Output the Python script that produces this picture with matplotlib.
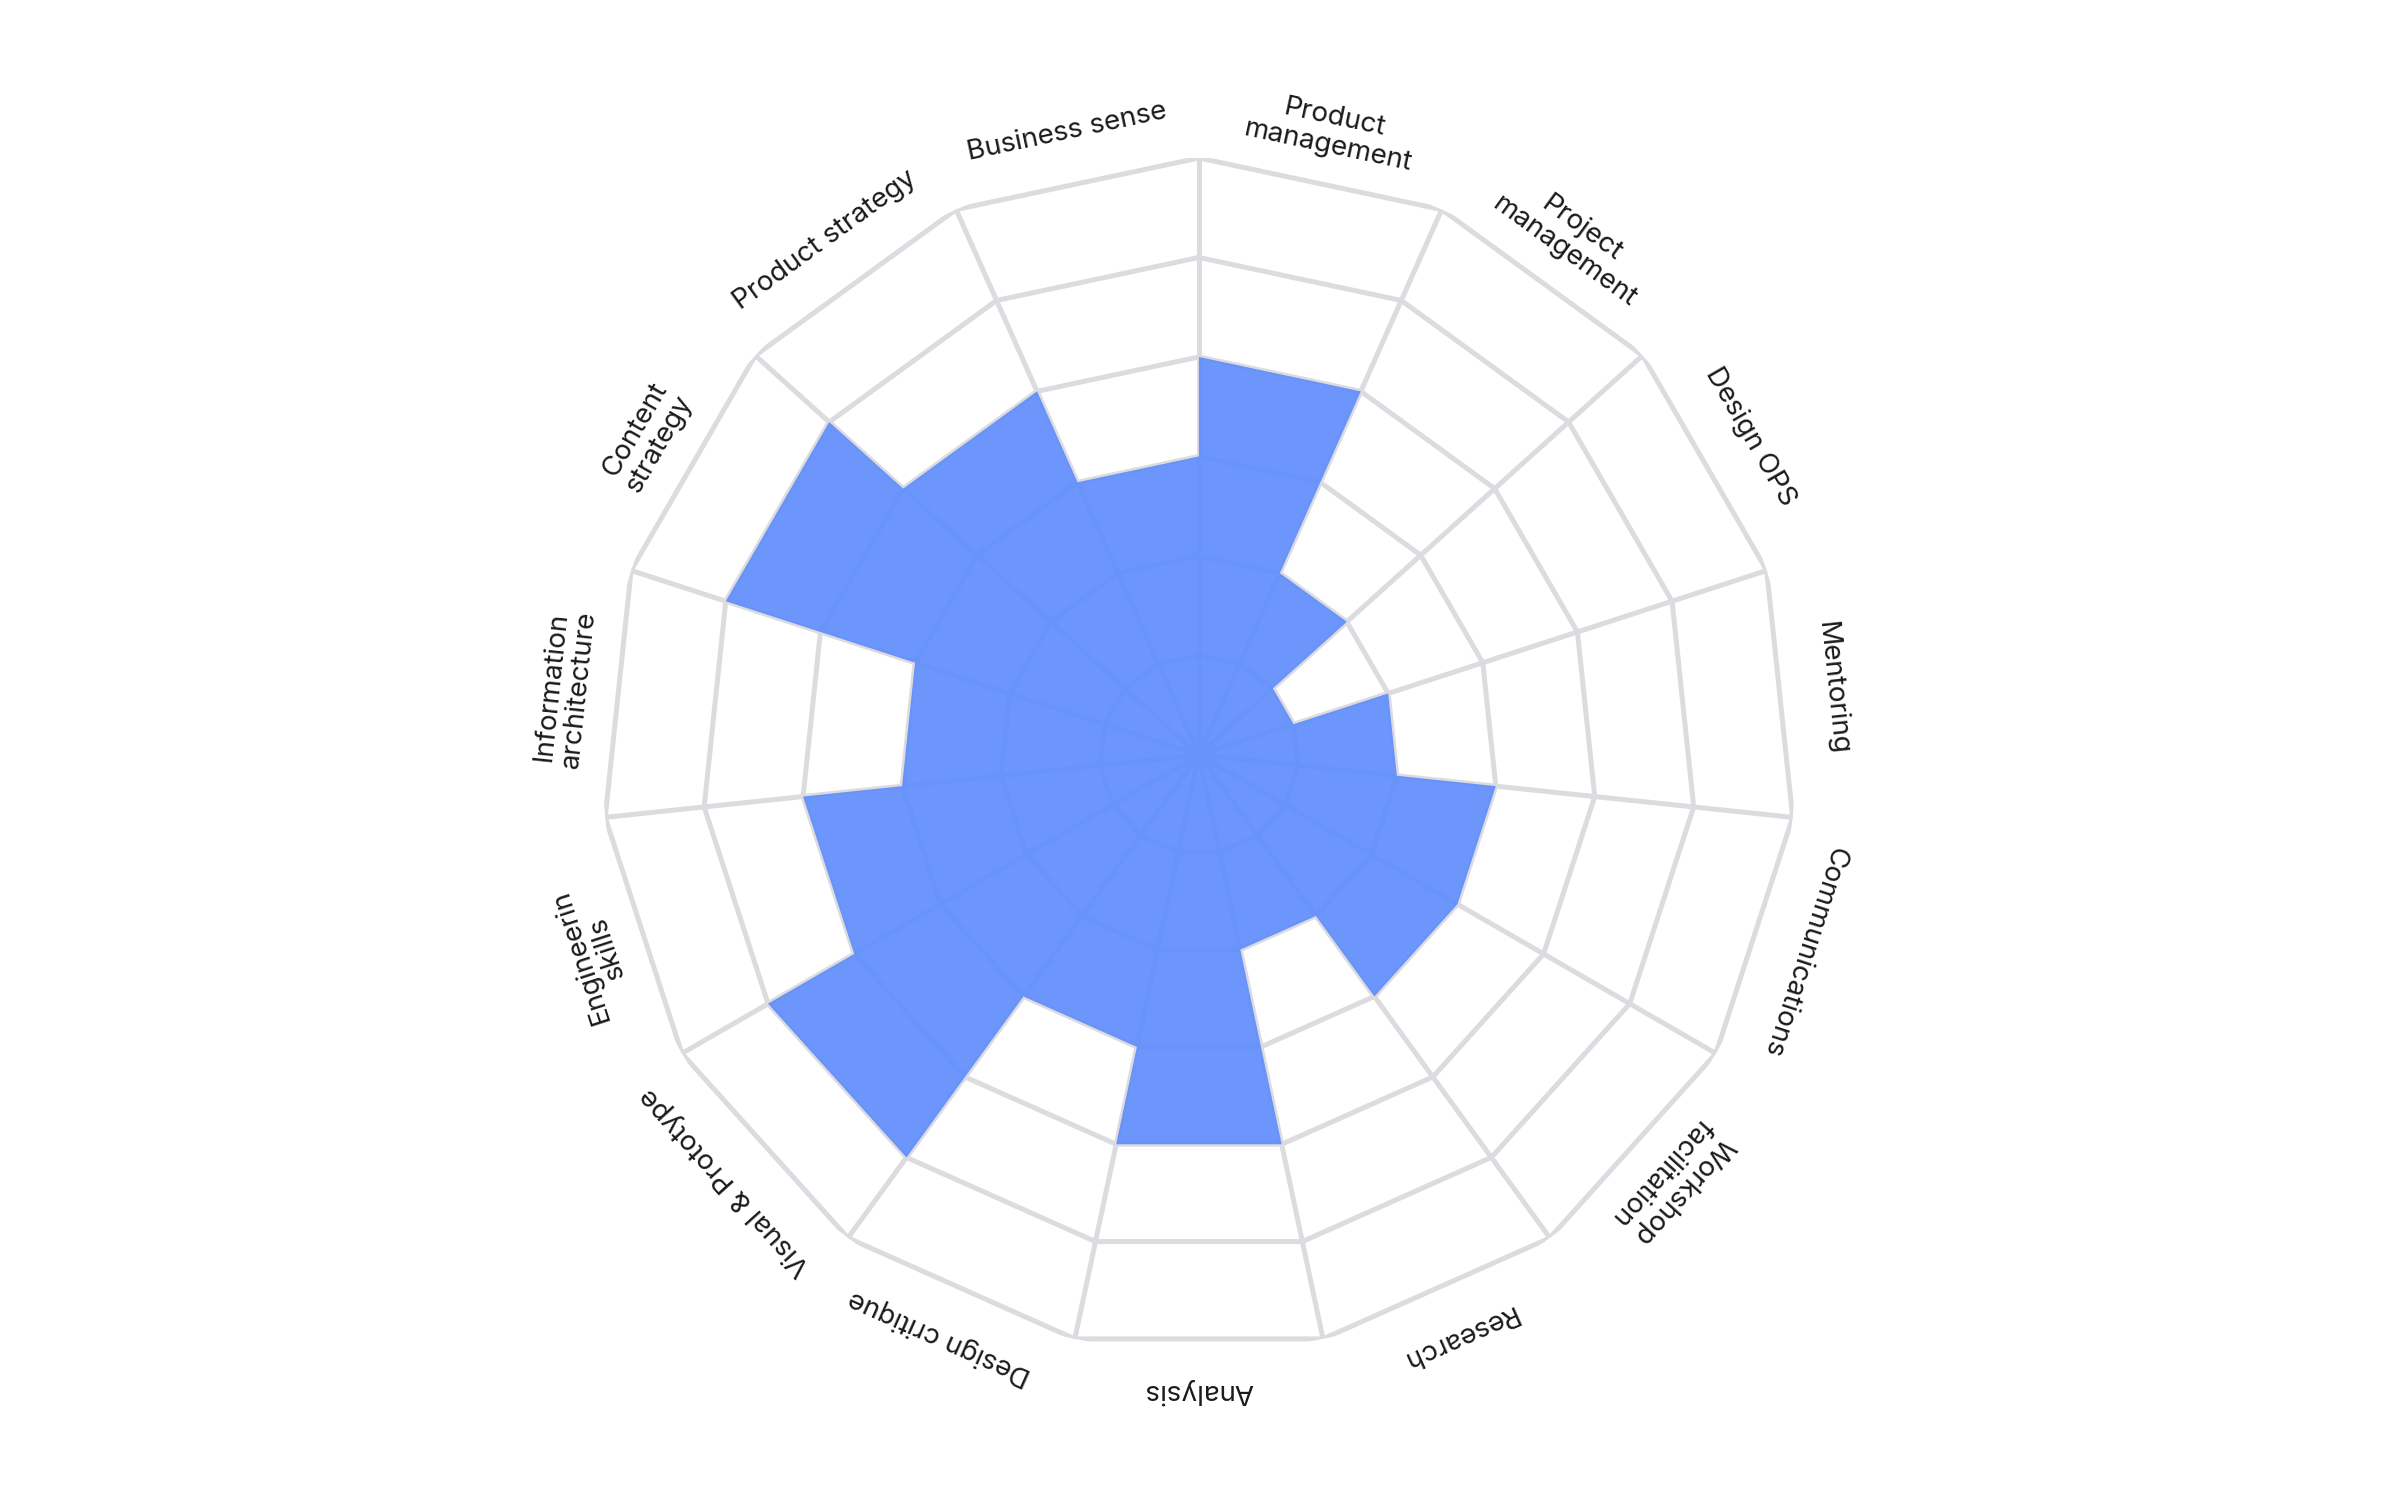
import numpy as np
import matplotlib
matplotlib.use("Agg")
import matplotlib.pyplot as plt

plt.rcParams['font.family'] = ['Inter', 'DejaVu Sans']

# skills, clockwise from 12 o'clock
skills = ["Product\nmanagement", "Project\nmanagement", "Design OPS", "Mentoring",
          "Communications", "Workshop\nfacilitation", "Research", "Analysis",
          "Design critique", "Visual & Prototype", "Engineerin\nskills",
          "Information\narchitecture", "Content\nstrategy", "Product strategy",
          "Business sense"]
scores = [4, 2, 1, 2, 3, 3, 2, 4, 3, 5, 4, 3, 5, 4, 3]
levels = [1, 2, 3, 4, 5, 6]

grid_color = "#dcdbdf"
fill_color = "#5c8bfc"

n = len(skills)
step = 2 * np.pi / n
# spoke angles (clockwise, 0 at top)
spokes = np.arange(n + 1) * step

fig = plt.figure(figsize=(24, 15), dpi=100)
fig.patch.set_facecolor("white")
ax = fig.add_axes([0.2508, 0.0987, 0.4975, 0.796], projection="polar")
ax.set_theta_zero_location("N")
ax.set_theta_direction(-1)
ax.set_ylim(0, 6)
ax.axis("off")

# polygon rings and spokes
for lv in levels:
    ax.plot(spokes, [lv] * len(spokes), color=grid_color, lw=3.6, zorder=1,
            solid_joinstyle="miter")
for a in spokes[:-1]:
    ax.plot([a, a], [0, levels[-1]], color=grid_color, lw=3.6, zorder=1)

# stepped fill: each skill fills its own sector up to its score
th, rr = [], []
for i, s in enumerate(scores):
    th += [spokes[i], spokes[i + 1]]
    rr += [s, s]
ax.fill(th + [0], rr + [0], color=fill_color, alpha=0.9, lw=0, zorder=2)

# labels, rotated along the circle
for i, lab in enumerate(skills):
    mid = (i + 0.5) * step
    rot = -np.degrees(mid)
    ax.text(mid, 6.4, lab, rotation=rot, rotation_mode="anchor",
            ha="center", va="center", fontsize=20, color="#1a1a1a",
            linespacing=1.1)

fig.savefig("out.png", dpi=100, facecolor="white")
